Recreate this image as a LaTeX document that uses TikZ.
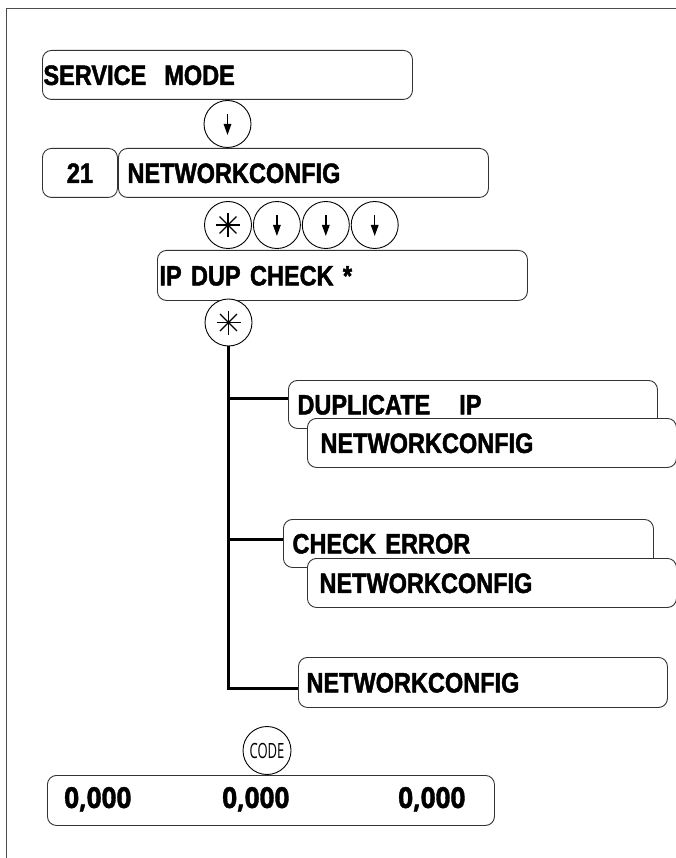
\documentclass[tikz,border=0pt]{standalone}
\usepackage{fontspec}
\usetikzlibrary{positioning,arrows.meta}
\newfontfamily\dispfont[FakeStretch=0.84, BoldFeatures={FakeBold=1.6}]{Liberation Sans}
\newfontfamily\valfont[FakeStretch=0.9, BoldFeatures={FakeBold=1.2}]{Open Sans}
\newfontfamily\codefont[FakeStretch=0.62]{Open Sans}

\begin{document}
\begin{tikzpicture}[x=1pt,y=-1pt,
    disp/.style={draw=black!80, line width=0.9pt, rounded corners=9pt, fill=white,
      anchor=north west, minimum height=49pt, inner ysep=0pt, text height=20pt,
      text depth=0pt, align=left, font=\dispfont\bfseries\fontsize{28}{30}\selectfont},
    key/.style={circle, draw, line width=0.9pt, minimum size=47pt, inner sep=0pt, fill=white},
    downkey/.style={key, path picture={
      \draw[line width=1.4pt, -{Triangle[length=11pt,width=7.5pt]}]
        ([yshift=10pt]path picture bounding box.center) -- ([yshift=-11pt]path picture bounding box.center);}},
    starkey/.style={key, path picture={
      \foreach \a in {0,45,90,135}
        \draw[line width=1.2pt] ([shift={(\a:12pt)}]path picture bounding box.center)
          -- ([shift={(\a+180:12pt)}]path picture bounding box.center);}},
    branch/.style={line width=2.2pt},
    value/.style={anchor=base west, inner sep=0pt, font=\valfont\bfseries\fontsize{29}{32}\selectfont}]
    \useasboundingbox (0,0) rectangle (675,858);
    \draw[black!70, line width=1.2pt] (6.5,880) -- (6.5,8.5) -- (700,8.5);

    \node[disp, text width=368pt, inner xsep=1pt] (svc) at (42,50) {SERVICE\hspace{18pt}MODE};
    \node[downkey] (k1) at (227.5,124) {};
    \node[disp, text width=75pt, inner xsep=0pt, align=center] (num) at (42,148) {21};
    \node[disp, text width=352pt, inner xsep=9pt] (ncfg) at (118,148) {NETWORKCONFIG};

    \node[starkey] (k2) at (228,225) {};
    \node[downkey, right=1pt of k2] (k3) {};
    \node[downkey, right=1pt of k3] (k4) {};
    \node[downkey, right=1pt of k4] (k5) {};

    \node[disp, text width=366pt, inner xsep=2pt, minimum height=50pt] (ipdup) at (157,250) {IP DUP CHECK *};
    \node[starkey] (star) at (228.5,322.5) {};

    \node[disp, text width=351pt, inner xsep=9pt, minimum height=48pt] (dup) at (288,380) {DUPLICATE\hspace{29pt}IP};
    \node[disp, text width=343pt, inner xsep=13pt] (dupnc) at (307,418) {NETWORKCONFIG};
    \node[disp, text width=352pt, inner xsep=9pt, minimum height=48pt] (chk) at (283,519) {CHECK ERROR};
    \node[disp, text width=345pt, inner xsep=12pt] (chknc) at (307,558) {NETWORKCONFIG};
    \node[disp, text width=353pt, inner xsep=8pt, minimum height=50pt] (last) at (298,657) {NETWORKCONFIG};

    \coordinate (b1) at ([yshift=6pt]dup.west);
    \coordinate (b2) at ([yshift=4pt]chk.west);
    \coordinate (b3) at ([yshift=-6pt]last.west);
    \draw[branch] (star.south) -- (star.south |- b3) -- (b3);
    \draw[branch] (star.south |- b1) -- (b1);
    \draw[branch] (star.south |- b2) -- (b2);

    \node[key, minimum size=48pt, font=\codefont\fontsize{21}{22}\selectfont] (code) at (267,750.5) {CODE};
    \node[disp, text width=447pt, inner xsep=0pt, minimum height=50pt] (valbox) at (47,775) {};
    \node[value] (v1) at (64,808) {0,000};
    \node[value] (v2) at (222,808) {0,000};
    \node[value] (v3) at (398,808) {0,000};
\end{tikzpicture}
\end{document}
